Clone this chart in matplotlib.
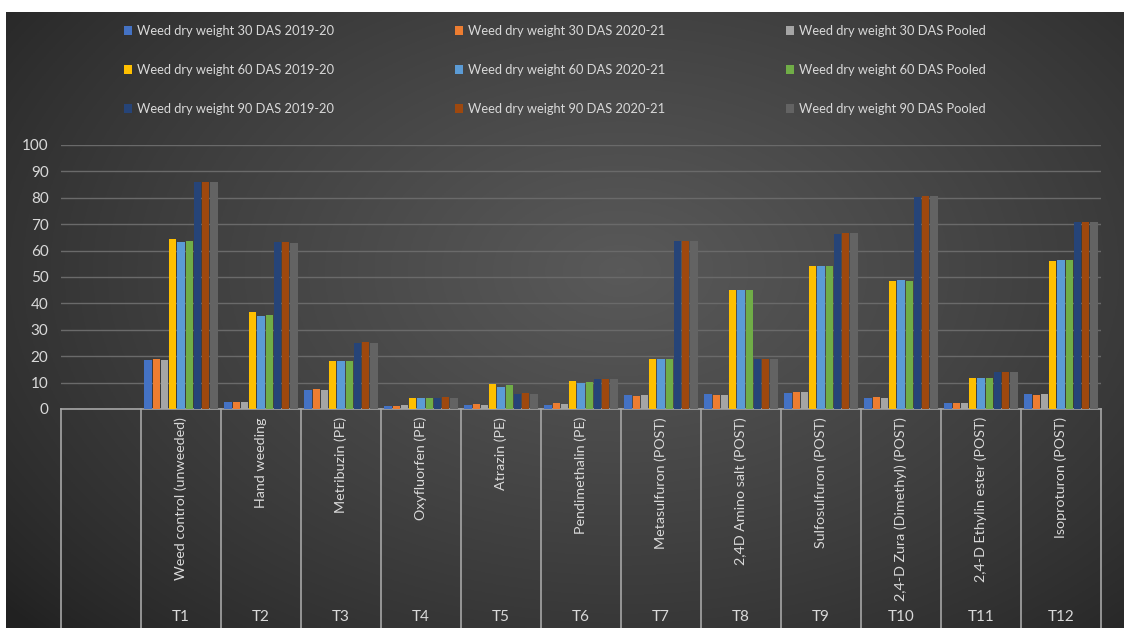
import numpy as np
import matplotlib
matplotlib.use("Agg")
import matplotlib.pyplot as plt
from matplotlib.patches import Patch
import matplotlib.transforms as mtransforms

plt.rcParams["font.family"] = ["Lato", "DejaVu Sans"]

treatments = ["Weed control (unweeded)", "Hand weeding", "Metribuzin (PE)", "Oxyfluorfen (PE)",
              "Atrazin (PE)", "Pendimethalin (PE)", "Metasulfuron (POST)", "2,4D Amino salt (POST)",
              "Sulfosulfuron (POST)", "2,4-D Zura (Dimethyl) (POST)", "2,4-D Ethylin ester (POST)",
              "Isoproturon (POST)"]
codes = ["T1", "T2", "T3", "T4", "T5", "T6", "T7", "T8", "T9", "T10", "T11", "T12"]

series_names = ["Weed dry weight 30 DAS 2019-20", "Weed dry weight 30 DAS 2020-21", "Weed dry weight 30 DAS Pooled",
                "Weed dry weight 60 DAS 2019-20", "Weed dry weight 60 DAS 2020-21", "Weed dry weight 60 DAS Pooled",
                "Weed dry weight 90 DAS 2019-20", "Weed dry weight 90 DAS 2020-21", "Weed dry weight 90 DAS Pooled"]

das30_1920 = [18.7, 2.5, 7.3, 1.3, 1.6, 1.6, 5.4, 5.8, 6.1, 4.3, 2.3, 5.8]
das30_2021 = [18.9, 2.5, 7.6, 1.3, 2.0, 2.4, 4.9, 5.4, 6.6, 4.7, 2.3, 5.4]
das30_pool = [18.7, 2.5, 7.3, 1.4, 1.6, 2.0, 5.2, 5.4, 6.3, 4.3, 2.3, 5.8]
das60_1920 = [64.4, 36.6, 18.3, 4.0, 9.6, 10.5, 18.8, 45.1, 54.2, 48.4, 11.9, 56.2]
das60_2021 = [63.2, 35.1, 18.3, 4.0, 8.2, 9.8, 18.8, 45.1, 54.2, 48.7, 11.9, 56.5]
das60_pool = [63.7, 35.7, 18.3, 4.0, 9.0, 10.1, 18.8, 45.1, 54.2, 48.4, 11.9, 56.5]
das90_1920 = [86.1, 63.1, 25.0, 4.0, 5.8, 11.4, 63.8, 19.0, 66.3, 80.3, 13.9, 70.7]
das90_2021 = [86.1, 63.3, 25.2, 4.4, 6.1, 11.4, 63.8, 19.0, 66.7, 80.6, 14.1, 70.7]
das90_pool = [86.1, 62.9, 25.0, 4.0, 5.8, 11.4, 63.8, 19.0, 66.7, 80.6, 13.9, 70.7]

all_series = [das30_1920, das30_2021, das30_pool, das60_1920, das60_2021, das60_pool,
              das90_1920, das90_2021, das90_pool]
colors = ["#4472C4", "#ED7D31", "#A5A5A5", "#FFC000", "#5B9BD5", "#70AD47",
          "#264478", "#9E480E", "#636363"]
txt = "#D9D9D9"

W, H = 1124, 628
fig = plt.figure(figsize=(W / 100, H / 100), dpi=100, facecolor="white")

# dark gradient background, lighter towards the middle
bg = fig.add_axes([6 / W, 0, 1 - 6 / W, 1 - 12 / H], zorder=-10)
yy, xx = np.mgrid[0:1:300j, 0:1:500j]
r = np.sqrt(((xx - 0.55) / 0.72) ** 2 + ((yy - 0.58) / 0.85) ** 2)
shade = np.clip(1 - r, 0, 1) ** 0.8
lo, hi = np.array([0.13, 0.13, 0.13]), np.array([0.35, 0.35, 0.35])
img = lo + (hi - lo) * shade[..., None]
bg.imshow(img, aspect="auto", extent=[0, 1, 0, 1], origin="lower")
bg.axis("off")

ax_left, ax_right = 61 / W, 1101 / W
ax_bottom, ax_top = (H - 409) / H, (H - 145) / H
ax = fig.add_axes([ax_left, ax_bottom, ax_right - ax_left, ax_top - ax_bottom])
ax.patch.set_alpha(0)

n = len(treatments)
x = np.arange(1, n + 1) + 0.5
slot = 0.925 / 9
bw = slot * 0.88
for k, (vals, c) in enumerate(zip(all_series, colors)):
    ax.bar(x + (k - 4) * slot, vals, width=bw, color=c, label=series_names[k], zorder=3)

ax.set_xlim(0, n + 1)
ax.set_ylim(0, 100)
ax.set_yticks(range(0, 101, 10))
ax.yaxis.grid(True, color="#6A6A6A", linewidth=1, zorder=0)
ax.tick_params(axis="y", length=0, pad=9, labelcolor=txt, labelsize=11)
ax.set_xticks([])
for s in ["top", "right", "left"]:
    ax.spines[s].set_visible(False)
ax.spines["bottom"].set_color("#A6A6A6")
ax.spines["bottom"].set_linewidth(1.2)

# category table below the axis
ax_h = 409 - 145
trans = mtransforms.blended_transform_factory(ax.transData, ax.transAxes)
bottom_y = -(H - 409) / ax_h
for i in range(n + 2):
    ax.plot([i, i], [0, bottom_y], transform=trans, color="#A6A6A6", linewidth=1.2, clip_on=False)
for xi, name, code in zip(x, treatments, codes):
    ax.text(xi, -(417 - 409) / ax_h, name, transform=trans, rotation=90, ha="center", va="top",
            color=txt, fontsize=10.3)
    ax.text(xi, -(617 - 409) / ax_h, code, transform=trans, ha="center", va="center",
            color=txt, fontsize=11)

# legend: three columns, three rows
handles = [Patch(facecolor=c) for c in colors]
col_x = [124, 455, 786]
for col in range(3):
    idx = [col, col + 3, col + 6]
    leg = fig.legend([handles[i] for i in idx], [series_names[i] for i in idx],
                     loc="upper left", bbox_to_anchor=(col_x[col] / W, 1 - 25 / H),
                     frameon=False, fontsize=9.3, labelcolor=txt, handlelength=0.65,
                     handleheight=0.65, handletextpad=0.35, labelspacing=2.1,
                     borderaxespad=0, borderpad=0)

fig.savefig("out.png", dpi=100)
